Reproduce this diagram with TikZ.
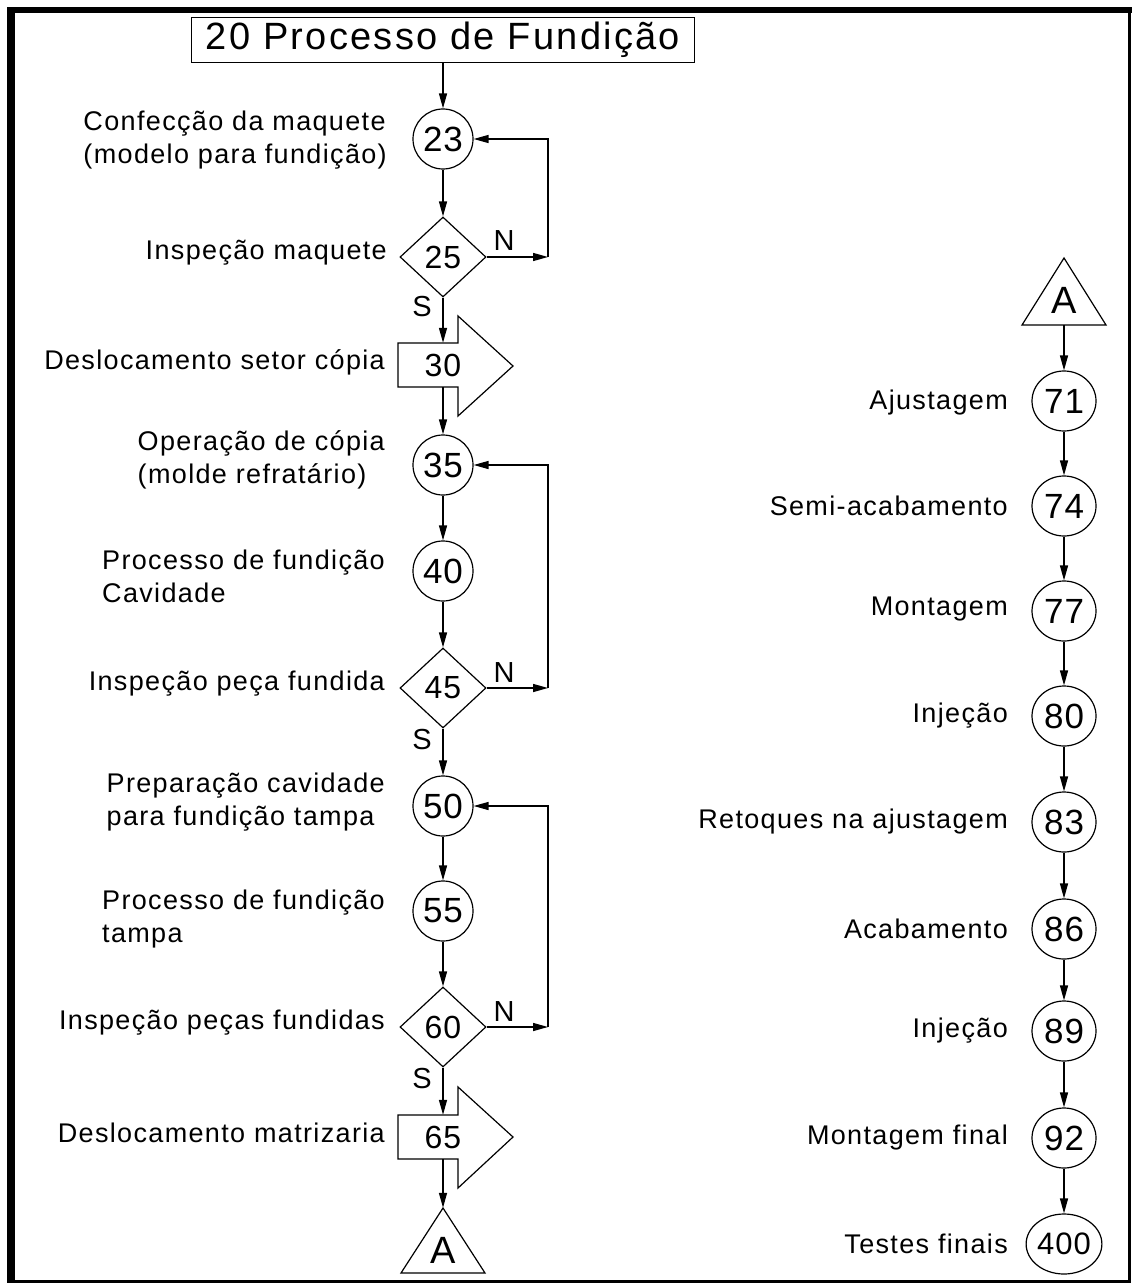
\documentclass[tikz,border=0pt]{standalone}
\usepackage{fontspec}
\setmainfont{Liberation Sans}
\newfontfamily\lblfont{Liberation Sans}[LetterSpace=5]
\newfontfamily\ttlfont{Liberation Sans}[LetterSpace=6]
\newfontfamily\numfont{Liberation Sans}[LetterSpace=3]
\usetikzlibrary{shapes.geometric,arrows.meta}

\tikzset{
  lbl/.style={anchor=east, align=left, inner sep=0pt, font=\lblfont\fontsize{27}{33}\selectfont},
  proc/.style={circle, draw, line width=1.2pt, minimum size=60pt, inner sep=0pt, font=\numfont\fontsize{35}{35}\selectfont},
  procr/.style={ellipse, draw, line width=1.2pt, minimum width=64pt, minimum height=60pt, inner sep=0pt, font=\numfont\fontsize{35}{35}\selectfont},
  insp/.style={diamond, draw, line width=1.2pt, minimum width=86pt, minimum height=80pt, inner sep=0pt, font=\numfont\fontsize{32}{32}\selectfont},
  mov/.style={inner sep=0pt, minimum height=44pt, font=\numfont\fontsize{32}{32}\selectfont},
  lnk/.style={inner sep=0pt, font=\fontsize{38}{38}\selectfont},
  yn/.style={inner sep=0pt, font=\fontsize{29}{29}\selectfont},
  arr/.style={line width=1.4pt, -{Triangle[length=15pt,width=8pt]}},
  ln/.style={line width=1.4pt}
}

\begin{document}
\begin{tikzpicture}[x=1pt, y=-1pt]
  \useasboundingbox (0,0) rectangle (1136,1284);
  % moldura
  \fill (7,7) rectangle (15,1283);
  \fill (7,7) rectangle (1132,13);
  \fill (1128,7) rectangle (1131,1283);
  \fill (7,1280) rectangle (1131,1283);

  % titulo
  \node [draw, line width=1.2pt, minimum width=503pt, minimum height=45pt, inner sep=0pt,
         font=\ttlfont\fontsize{38}{38}\selectfont] (ttl) at (443,40) {20 Processo de Fundição};

  % coluna esquerda
  \node [proc] (c23) at (443,139) {23};
  \node [insp] (i25) at (443,257) {25};
  \node [mov]  (m30) at (443,365) {30};
  \node [proc] (c35) at (443,465) {35};
  \node [proc] (c40) at (443,571) {40};
  \node [insp] (i45) at (443,688) {45};
  \node [proc] (c50) at (443,806) {50};
  \node [proc] (c55) at (443,911) {55};
  \node [insp] (i60) at (443,1027) {60};
  \node [mov]  (m65) at (443,1137) {65};
  \node [lnk, minimum height=84pt] (tA1) at (443,1250) {A};

  \draw [line width=1.2pt, shift={(m30.center)}] (-45,-22) -- (15,-22) -- (15,-49) -- (70,1) -- (15,51) -- (15,22) -- (-45,22) -- cycle;
  \draw [line width=1.2pt, shift={(m65.center)}] (-45,-22) -- (15,-22) -- (15,-50) -- (70,0) -- (15,51) -- (15,22) -- (-45,22) -- cycle;
  \draw [line width=1.2pt, shift={(tA1.center)}] (0,-42) -- (42,23) -- (-42,23) -- cycle;

  \node [lbl] (l23) at (387,140) {Confecção da maquete\\(modelo para fundição)};
  \node [lbl] (l25) at (387,253) {Inspeção maquete};
  \node [lbl] (l30) at (385,362) {Deslocamento setor cópia};
  \node [lbl] (l35) at (385,460) {Operação de cópia\\(molde refratário)};
  \node [lbl] (l40) at (385,576) {Processo de fundição\\Cavidade};
  \node [lbl] (l45) at (385,684) {Inspeção peça fundida};
  \node [lbl] (l50) at (385,802) {Preparação cavidade\\para fundição tampa};
  \node [lbl] (l55) at (385,919) {Processo de fundição\\tampa};
  \node [lbl] (l60) at (385,1023) {Inspeção peças fundidas};
  \node [lbl] (l65) at (385,1133) {Deslocamento matrizaria};

  \node [yn] (n25) at (504,241) {N};
  \node [yn] (s25) at (422,307) {S};
  \node [yn] (n45) at (504,673) {N};
  \node [yn] (s45) at (422,740) {S};
  \node [yn] (n60) at (504,1012) {N};
  \node [yn] (s60) at (422,1079) {S};

  \draw [arr] (ttl) -- (c23);
  \draw [arr] (c23) -- (i25);
  \draw [arr] (i25) -- (m30);
  \draw [arr] (m30) -- (c35);
  \draw [arr] (c35) -- (c40);
  \draw [arr] (c40) -- (i45);
  \draw [arr] (i45) -- (c50);
  \draw [arr] (c50) -- (c55);
  \draw [arr] (c55) -- (i60);
  \draw [arr] (i60) -- (m65);
  \draw [arr] (m65) -- (tA1);

  % retornos (N)
  \coordinate (r25) at (548,257);
  \coordinate (r45) at (548,688);
  \coordinate (r60) at (548,1027);
  \draw [arr] (i25) -- (r25);
  \draw [arr] (r25) |- (c23);
  \draw [arr] (i45) -- (r45);
  \draw [arr] (r45) |- (c35);
  \draw [arr] (i60) -- (r60);
  \draw [arr] (r60) |- (c50);

  % coluna direita
  \node [lnk, minimum height=50pt] (tA2) at (1064,300) {A};
  \draw [line width=1.2pt, shift={(tA2.center)}] (0,-42) -- (42,25) -- (-42,25) -- cycle;
  \node [procr] (c71) at (1064,401) {71};
  \node [procr] (c74) at (1064,506) {74};
  \node [procr] (c77) at (1064,611) {77};
  \node [procr] (c80) at (1064,716) {80};
  \node [procr] (c83) at (1064,822) {83};
  \node [procr] (c86) at (1064,929) {86};
  \node [procr] (c89) at (1064,1031) {89};
  \node [procr] (c92) at (1064,1138) {92};
  \node [procr, font=\numfont\fontsize{31}{31}\selectfont] (c400) at (1064,1244) {400};

  \node [lbl] (l71) at (1008,403) {Ajustagem};
  \node [lbl] (l74) at (1008,506) {Semi-acabamento};
  \node [lbl] (l77) at (1008,609) {Montagem};
  \node [lbl] (l80) at (1008,716) {Injeção};
  \node [lbl] (l83) at (1008,822) {Retoques na ajustagem};
  \node [lbl] (l86) at (1008,929) {Acabamento};
  \node [lbl] (l89) at (1008,1031) {Injeção};
  \node [lbl] (l92) at (1008,1138) {Montagem final};
  \node [lbl] (l400) at (1008,1244) {Testes finais};

  \draw [arr] (tA2) -- (c71);
  \draw [arr] (c71) -- (c74);
  \draw [arr] (c74) -- (c77);
  \draw [arr] (c77) -- (c80);
  \draw [arr] (c80) -- (c83);
  \draw [arr] (c83) -- (c86);
  \draw [arr] (c86) -- (c89);
  \draw [arr] (c89) -- (c92);
  \draw [arr] (c92) -- (c400);
\end{tikzpicture}
\end{document}
